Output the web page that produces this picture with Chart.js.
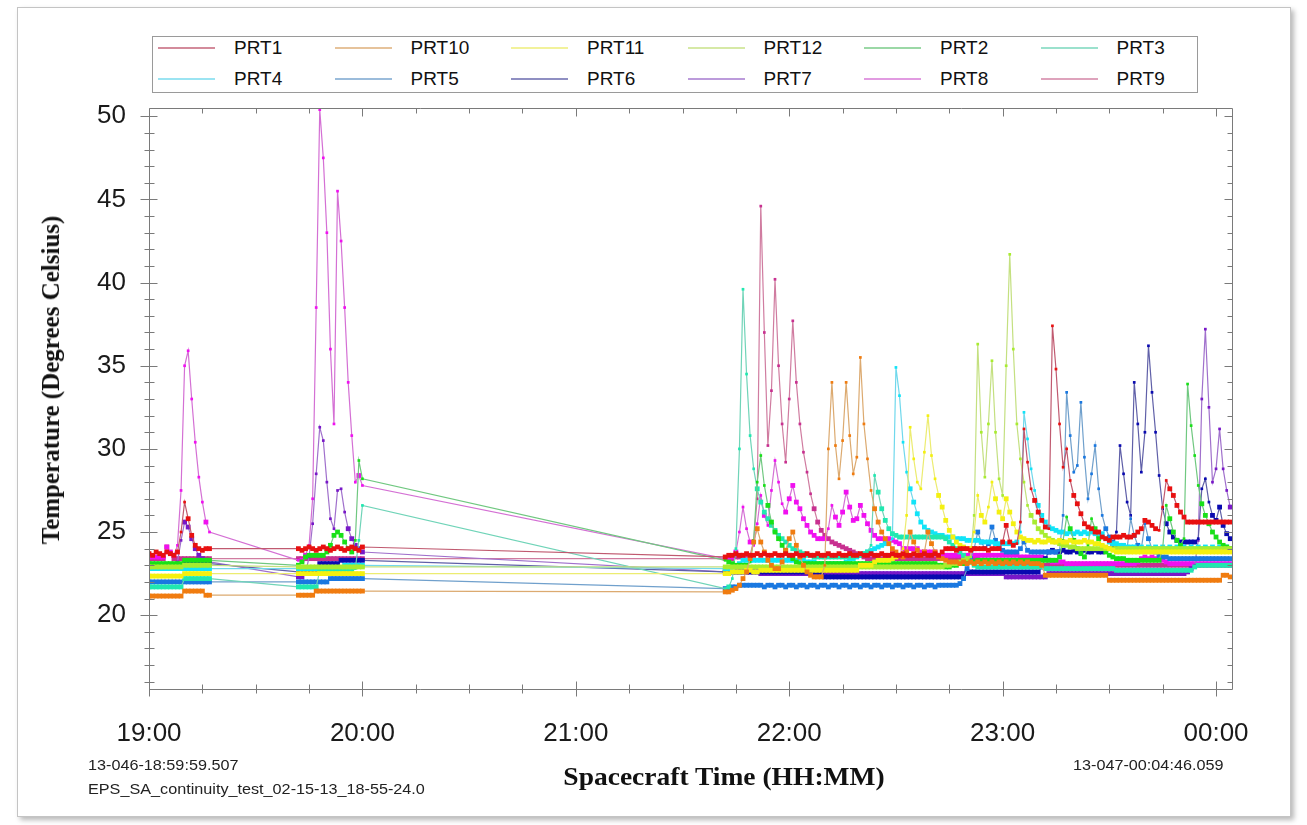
<!DOCTYPE html>
<html><head><meta charset="utf-8">
<script src="https://cdn.jsdelivr.net/npm/chart.js@4.4.1/dist/chart.umd.min.js"></script>
<style>
html,body{margin:0;padding:0;background:#fff;}
#wrap{position:relative;width:1307px;height:825px;overflow:hidden;background:#fff;font-family:"Liberation Sans",Arial,sans-serif;}
#frame{position:absolute;left:17px;top:7px;width:1272px;height:808px;border:1px solid #c4c4c4;box-shadow:3px 3px 5px rgba(0,0,0,0.28);background:#fff;}
canvas{position:absolute;left:0;top:0;}
#legend{position:absolute;left:152px;top:36px;width:1044px;height:55px;border:1px solid #9a9a9a;background:#fff;}
.li{position:absolute;height:20px;font-size:19px;color:#111;line-height:20px;white-space:nowrap;}
.li .sw{position:absolute;left:0;top:9px;width:57px;height:2px;}
.li .tx{position:absolute;left:76px;top:0;}
.ytitle{position:absolute;left:51px;top:380px;transform:translate(-50%,-50%) rotate(-90deg);font-family:"Liberation Serif","Times New Roman",serif;font-weight:bold;font-size:25px;white-space:nowrap;color:#111;}
.xtitle{position:absolute;left:724px;top:777px;transform:translate(-50%,-50%) scaleX(1.1);font-family:"Liberation Serif","Times New Roman",serif;font-weight:bold;font-size:25px;white-space:nowrap;color:#111;}
.note{position:absolute;font-size:15px;color:#222;white-space:nowrap;transform-origin:0 50%;transform:scaleX(1.08);}
</style></head>
<body>
<div id="wrap">
<div id="frame"></div>
<canvas id="c" width="1307" height="825"></canvas>
<div id="legend"></div>
<div class="ytitle">Temperature (Degrees Celsius)</div>
<div class="xtitle">Spacecraft Time (HH:MM)</div>
<div class="note" style="left:88px;top:756px">13-046-18:59:59.507</div>
<div class="note" style="left:88px;top:780px">EPS_SA_continuity_test_02-15-13_18-55-24.0</div>
<div class="note" style="left:1073px;top:756px">13-047-00:04:46.059</div>
</div>
<script>
// sample times, minutes after 19:00
const t_A = [0,1,2,3,4,5,6,7,8,9,10,11,12,13,14,15,16,17];
const t_B = [42,43,44,45,46,47,48,49,50,51,52,53,54,55,56,57,58,59,60];
const t_C = [162,163,164,165,166,167,168,169,170,171,
172,173,174,175,176,177,178,179,180,181,
182,183,184,185,186,187,188,189,190,191,
192,193,194,195,196,197,198,199,200,201,
202,203,204,205,206,207,208,209,210,211,
212,213,214,215,216,217,218,219,220,221,
222,223,224,225,226,227,228,229,230,231,
232,233,234,235,236,237,238,239,240,241,
242,243,244,245,246,247,248,249,250,251,
252,253,254,255,256,257,258,259,260,261,
262,263,264,265,266,267,268,269,270,271,
272,273,274,275,276,277,278,279,280,281,
282,283,284,285,286,287,288,289,290,291,
292,293,294,295,296,297,298,299,300,301,
302,303,304];

const hourTicks = [0,60,120,180,240,300];
const hourLabels = ['19:00','20:00','21:00','22:00','23:00','00:00'];
const tempTicks = [20,25,30,35,40,45,50];
const seriesNames = ['PRT1','PRT10','PRT11','PRT12','PRT2','PRT3','PRT4','PRT5','PRT6','PRT7','PRT8','PRT9'];

// PRT1
const prt1_A = [23.7,23.6,23.8,23.7,23.6,23.8,23.7,23.6,23.8,25.0,26.8,25.8,24.8,24.2,24.0,23.9,24.0,24.0];
const prt1_B = [24.0,23.9,24.0,24.1,24.0,23.9,24.0,24.1,24.0,23.9,24.0,24.1,24.0,23.9,24.0,24.1,24.0,23.9,24.1];
const prt1_C = [23.5,23.6,23.6,23.7,23.6,23.6,23.7,23.6,23.6,23.7,
23.6,23.7,23.6,23.6,23.7,23.6,23.6,23.7,23.6,23.6,
23.7,23.6,23.6,23.7,23.6,23.6,23.7,23.6,23.6,23.7,
23.6,23.6,23.7,23.6,23.6,23.7,23.6,23.6,23.7,23.6,
23.6,23.7,23.6,23.6,23.7,23.6,23.6,23.7,23.6,23.6,
23.7,23.6,23.6,23.7,23.6,23.6,23.7,23.6,23.6,23.7,
23.6,23.8,24.0,24.0,24.0,23.9,24.0,24.0,24.0,23.9,
24.0,24.0,24.0,24.0,23.9,24.0,24.0,24.0,24.4,25.4,
24.4,24.2,24.3,25.6,31.2,29.2,27.6,26.9,26.2,25.7,
25.3,25.2,37.4,34.8,31.5,28.9,30.0,28.1,27.2,26.7,
26.1,25.5,25.3,25.2,25.0,25.0,24.7,24.6,24.5,24.7,
24.7,24.7,24.8,24.7,24.7,24.8,25.0,25.2,25.7,25.6,
25.4,25.2,25.1,26.5,28.1,27.6,27.2,26.6,26.2,25.9,
25.6,25.6,25.6,25.6,25.6,25.6,25.6,25.6,25.6,25.6,
25.6,25.6,25.6];

// PRT10
const prt10_A = [21.15,21.15,21.15,21.15,21.15,21.15,21.15,21.15,21.15,21.15,21.45,21.45,21.45,21.45,21.45,21.45,21.2,21.2];
const prt10_B = [21.2,21.2,21.2,21.2,21.2,21.45,21.45,21.45,21.45,21.45,21.45,21.45,21.45,21.45,21.45,21.45,21.45,21.45,21.45];
const prt10_C = [21.4,21.4,21.5,21.6,21.8,22.2,22.6,23.4,24.4,25.2,
24.4,23.8,23.3,23.0,22.8,22.8,23.2,23.9,24.6,25.0,
24.2,23.5,23.0,22.6,22.4,22.3,22.3,22.3,23.0,30.0,
34.0,30.2,28.2,30.5,34.0,30.8,28.5,29.5,35.5,31.5,
29.4,27.5,26.4,25.6,25.0,24.6,24.3,24.0,23.8,23.6,
23.5,23.8,25.0,24.4,23.9,23.6,23.8,25.0,24.3,23.8,
23.5,23.4,23.3,23.2,23.2,23.2,23.1,23.2,23.1,23.2,
23.1,23.2,23.1,23.2,23.1,23.2,23.1,23.2,23.1,23.2,
23.1,23.2,23.1,23.2,23.1,23.2,23.1,23.1,23.1,23.0,
22.4,22.4,22.4,22.4,22.4,22.4,22.4,22.4,22.4,22.4,
22.4,22.4,22.4,22.4,22.4,22.4,22.4,22.4,22.1,22.1,
22.1,22.1,22.1,22.1,22.1,22.1,22.1,22.1,22.1,22.1,
22.1,22.1,22.1,22.1,22.1,22.1,22.1,22.1,22.1,22.1,
22.1,22.1,22.1,22.1,22.1,22.1,22.1,22.1,22.1,22.1,
22.4,22.4,22.3];

// PRT11
const prt11_A = [22.35,22.35,22.35,22.35,22.35,22.35,22.35,22.35,22.35,22.35,22.5,22.5,22.5,22.5,22.5,22.5,22.5,22.5];
const prt11_B = [22.5,22.5,22.5,22.5,22.5,22.5,22.5,22.5,22.5,22.5,22.5,22.5,22.5,22.5,22.5,22.5,22.5,22.5,22.5];
const prt11_C = [22.5,22.5,22.6,22.6,22.6,22.6,22.7,22.7,22.6,22.6,
22.7,22.7,22.7,22.7,22.7,22.7,22.7,22.7,22.7,22.7,
22.7,22.7,22.7,22.7,22.7,22.7,22.7,22.7,22.7,22.7,
22.7,22.7,22.7,22.7,22.7,22.7,22.7,22.7,23.0,23.0,
23.0,23.0,23.2,23.3,23.3,23.3,23.3,23.4,23.5,23.6,
24.0,26.0,31.3,29.4,28.0,27.6,29.8,32.0,29.6,28.2,
27.2,26.5,25.7,25.1,24.7,24.4,24.2,24.1,24.0,24.0,
25.0,27.2,26.0,25.6,26.5,28.0,27.0,26.2,25.8,27.0,
26.2,25.5,25.0,24.7,24.6,24.5,24.5,24.4,24.5,24.4,
24.4,24.5,24.4,24.4,24.5,24.4,24.4,24.5,24.4,24.4,
24.4,24.5,24.4,24.4,24.3,24.3,24.2,24.1,24.0,23.9,
23.8,23.8,23.8,23.8,23.8,23.8,23.8,23.8,23.8,23.8,
23.8,23.8,23.8,23.8,23.8,23.8,23.8,23.8,23.8,23.8,
23.8,23.8,23.8,23.8,23.8,23.8,23.8,23.8,23.8,23.8,
23.8,23.8,23.8];

// PRT12
const prt12_A = [22.9,22.9,22.9,22.9,22.9,22.9,22.9,22.9,22.9,22.9,23.0,23.0,23.0,23.0,23.0,23.0,23.0,23.0];
const prt12_B = [22.9,22.9,22.9,22.9,22.9,22.9,22.9,22.9,22.9,22.9,22.9,22.9,22.9,22.9,22.9,22.9,22.9,22.9,22.9];
const prt12_C = [22.9,22.9,22.9,22.9,22.9,22.9,22.9,22.9,22.9,22.9,
22.9,22.9,22.9,22.9,22.9,22.9,22.9,22.9,22.9,22.9,
22.9,22.9,22.9,22.9,22.9,22.9,22.9,22.9,22.9,22.9,
22.9,22.9,22.9,22.9,22.9,22.9,22.9,22.9,22.9,22.9,
22.9,22.9,22.9,22.9,22.9,22.9,22.9,22.9,22.9,22.9,
22.9,22.9,22.9,22.9,22.9,22.9,22.9,22.9,22.9,22.9,
22.9,22.9,23.0,23.0,23.1,23.1,23.2,23.3,23.4,23.5,
26.0,36.3,31.0,28.3,31.5,35.3,31.0,28.2,27.2,35.0,
41.7,36.0,31.5,29.4,28.0,26.6,26.0,25.6,25.2,25.0,
24.8,24.6,24.5,24.4,24.3,24.2,24.2,24.1,24.1,24.0,
24.0,24.0,24.0,24.0,24.0,24.0,24.0,24.0,24.0,24.0,
24.0,24.0,24.0,24.0,24.0,24.0,24.0,24.0,24.0,24.0,
24.0,24.0,24.0,24.0,24.0,24.0,24.0,24.0,24.0,24.0,
24.0,24.0,24.0,24.0,24.0,24.0,24.0,24.0,24.0,24.0,
24.0,24.0,24.0];

// PRT2
const prt2_A = [23.1,23.1,23.1,23.1,23.1,23.1,23.1,23.1,23.1,23.1,23.3,23.3,23.3,23.3,23.3,23.3,23.3,23.3];
const prt2_B = [23.0,23.2,23.5,23.6,23.6,23.6,23.6,23.6,23.8,24.2,24.8,25.0,24.8,24.4,24.0,23.8,24.5,29.3,28.2];
const prt2_C = [23.3,23.2,23.1,23.0,23.0,23.0,23.0,23.2,24.5,28.0,
29.6,27.8,26.6,25.6,25.0,24.6,24.2,23.9,23.6,23.4,
23.2,23.1,23.1,23.1,23.1,23.1,23.1,23.1,23.1,23.1,
23.1,23.1,23.1,23.1,23.1,23.1,23.1,23.1,23.1,23.1,
23.1,23.1,23.1,23.1,23.1,23.1,23.1,23.1,23.1,23.1,
23.1,23.1,23.1,23.1,23.1,23.1,23.1,23.1,23.1,23.1,
23.0,23.0,22.9,22.9,23.0,23.0,23.1,23.1,23.2,23.2,
23.2,23.3,23.3,23.3,23.3,23.3,23.3,23.3,23.3,23.3,
23.3,23.3,23.3,23.3,23.3,23.3,23.3,23.3,23.3,23.3,
23.3,23.3,23.3,23.3,23.5,24.5,25.9,25.2,24.5,24.0,
23.7,23.5,24.2,25.8,25.2,24.6,24.1,23.8,23.6,23.5,
23.4,23.4,23.4,23.3,23.3,23.3,23.3,23.3,23.3,23.3,
23.3,23.3,23.3,24.0,26.6,25.8,25.0,24.5,24.2,24.6,
33.9,31.4,29.6,27.8,26.7,26.0,25.5,25.0,24.7,24.4,
24.2,24.1,24.0];

// PRT3
const prt3_A = [21.7,21.7,21.7,21.7,21.7,21.7,21.7,21.7,21.7,21.7,22.2,22.2,22.2,22.2,22.2,22.2,22.2,22.2];
const prt3_B = [21.7,21.7,21.7,21.7,21.7,21.7,22.7,22.7,22.7,22.7,22.7,22.7,22.7,22.7,22.7,22.7,22.8,24.5,26.6];
const prt3_C = [21.6,21.7,22.2,24.0,30.0,39.6,34.5,30.8,28.8,27.6,
26.8,26.2,25.8,25.4,25.1,24.8,24.6,24.4,24.2,24.0,
23.9,23.8,23.7,23.6,23.6,23.5,23.5,23.5,23.5,23.5,
23.5,23.5,23.5,23.5,23.5,23.5,23.5,23.6,23.6,23.7,
23.8,24.2,28.4,27.4,26.4,25.7,25.2,24.9,24.8,24.7,
24.7,24.7,24.7,24.7,24.7,24.7,24.7,24.7,24.7,24.7,
24.7,24.7,24.6,24.4,24.2,24.0,23.8,23.6,23.4,23.2,
23.0,22.9,22.9,22.9,22.9,22.9,22.9,22.9,22.9,22.9,
22.9,22.9,22.9,22.9,22.9,22.9,22.9,22.9,22.9,22.9,
22.8,22.8,22.8,22.8,22.8,22.8,22.8,22.8,22.8,22.8,
22.8,22.8,22.8,22.8,22.8,22.8,22.8,22.8,22.8,22.8,
22.7,22.7,22.7,22.7,22.7,22.7,22.7,22.7,22.7,22.7,
22.7,22.7,22.7,22.7,22.7,22.7,22.7,22.7,22.7,22.7,
22.7,22.7,22.9,23.0,23.0,23.0,23.0,23.0,23.0,23.0,
23.0,23.0,23.0];

// PRT4
const prt4_A = [22.8,22.8,22.8,22.8,22.8,22.8,22.8,22.8,22.8,22.8,22.8,22.8,22.8,22.8,22.8,22.8,22.8,22.8];
const prt4_B = [22.8,22.8,22.8,22.8,22.8,22.8,22.8,22.8,22.8,22.8,22.8,22.8,22.8,23.0,23.0,23.0,23.0,23.0,23.0];
const prt4_C = [22.8,22.8,22.8,22.9,23.1,23.3,23.3,23.3,23.3,23.3,
23.3,23.3,23.3,23.3,23.3,23.3,23.3,23.3,23.3,23.3,
23.3,23.3,23.3,23.2,23.2,23.2,23.1,23.1,23.1,23.1,
23.1,23.1,23.1,23.1,23.2,23.3,23.4,23.5,23.6,23.7,
23.8,23.9,24.0,24.1,24.2,24.3,24.3,24.6,34.9,33.2,
30.4,28.6,27.6,26.8,26.1,25.6,25.3,25.1,25.0,24.9,
24.8,24.8,24.7,24.7,24.7,24.6,24.6,24.6,24.5,24.5,
24.5,24.5,24.4,24.4,24.4,24.4,24.3,24.3,24.3,24.3,
24.3,24.3,24.4,25.0,32.2,30.6,28.8,27.5,26.6,26.0,
25.6,25.3,25.2,25.1,25.0,25.0,24.9,25.0,24.9,25.0,
24.9,25.0,24.9,25.0,24.9,24.8,24.9,24.6,24.4,24.3,
24.3,24.2,24.2,24.1,24.1,24.1,24.0,24.1,24.0,24.1,
24.0,24.1,24.0,24.1,24.0,24.1,24.0,24.1,24.0,24.1,
24.0,24.1,24.0,24.1,24.0,24.1,24.0,24.1,24.0,24.1,
24.0,24.1,24.0];

// PRT5
const prt5_A = [22.0,22.0,22.0,22.0,22.0,22.0,22.0,22.0,22.0,22.0,22.0,22.0,22.0,22.0,22.0,22.0,22.0,22.0];
const prt5_B = [22.0,22.0,22.0,22.0,22.0,22.0,22.0,22.0,22.0,22.2,22.2,22.2,22.2,22.2,22.2,22.2,22.2,22.2,22.2];
const prt5_C = [21.6,21.6,21.7,21.7,21.8,21.8,21.8,21.8,21.8,21.8,
21.8,21.7,21.8,21.8,21.7,21.8,21.8,21.7,21.8,21.8,
21.7,21.8,21.8,21.7,21.8,21.8,21.7,21.8,21.8,21.7,
21.8,21.8,21.7,21.8,21.8,21.7,21.8,21.8,21.7,21.8,
21.8,21.7,21.8,21.8,21.7,21.8,21.8,21.7,21.8,21.8,
21.7,21.8,21.8,21.7,21.8,21.8,21.7,21.8,21.8,21.7,
21.8,21.8,21.8,21.8,21.8,21.8,21.9,22.2,22.8,23.4,
24.0,25.0,24.4,24.0,24.3,25.3,24.5,24.1,23.9,23.8,
23.8,23.8,23.8,24.0,24.4,23.9,23.8,23.8,23.8,23.8,
23.8,23.8,23.8,23.8,23.9,26.0,33.4,30.8,28.6,29.0,
32.8,29.5,27.0,28.5,30.2,27.6,26.0,25.2,24.7,24.4,
24.2,24.1,24.0,24.0,25.8,24.8,24.2,24.0,25.5,24.6,
24.0,23.8,23.6,23.5,23.5,23.4,23.4,23.4,23.4,23.4,
23.4,23.4,23.4,23.4,23.4,23.4,23.4,23.4,23.4,23.4,
23.4,23.4,23.4];

// PRT6
const prt6_A = [22.9,22.9,22.9,22.9,22.9,22.9,22.9,22.9,22.9,22.9,23.1,23.1,23.1,23.1,23.1,23.1,23.1,23.1];
const prt6_B = [22.6,22.6,22.6,22.6,22.6,22.6,23.1,23.1,23.1,23.1,23.1,23.1,23.3,23.3,23.3,23.3,23.3,23.3,23.3];
const prt6_C = [22.6,22.6,22.6,22.6,22.6,22.6,22.6,22.6,22.6,22.6,
22.6,22.6,22.6,22.6,22.6,22.6,22.6,22.6,22.6,22.6,
22.6,22.6,22.6,22.6,22.6,22.6,22.6,22.6,22.3,22.3,
22.3,22.3,22.3,22.3,22.3,22.3,22.3,22.3,22.3,22.3,
22.3,22.3,22.3,22.3,22.3,22.3,22.3,22.3,22.3,22.3,
22.3,22.3,22.3,22.3,22.3,22.3,22.3,22.3,22.3,22.3,
22.3,22.3,22.3,22.3,22.3,22.3,22.3,22.3,22.6,22.6,
22.6,22.6,22.6,22.6,22.6,22.6,22.6,22.6,22.6,22.6,
22.6,22.6,22.6,22.6,22.6,22.6,22.6,22.6,22.6,22.9,
23.4,23.8,23.9,23.8,23.8,23.9,23.8,23.8,23.9,23.8,
23.8,23.9,23.8,23.8,23.9,23.8,23.8,23.9,24.0,24.2,
25.0,30.2,28.5,26.8,26.0,34.0,31.5,28.6,31.0,36.2,
33.4,31.0,28.4,26.4,25.5,25.0,24.7,24.5,24.4,24.4,
24.4,24.4,24.4,24.6,27.6,28.2,26.8,26.0,25.7,26.5,
25.4,24.9,24.6];

// PRT7
const prt7_A = [23.0,23.0,23.0,23.0,23.0,23.0,23.0,23.0,23.2,24.5,25.6,25.3,24.6,24.0,23.6,23.4,23.3,23.2];
const prt7_B = [22.3,22.3,22.5,23.5,25.5,28.5,31.3,30.5,28.0,25.8,25.2,27.5,27.6,26.2,25.2,24.6,24.2,24.0,23.8];
const prt7_C = [22.6,22.6,22.6,22.6,22.6,22.6,22.6,22.6,22.6,22.6,
22.5,22.5,22.5,22.5,22.5,22.5,22.5,22.5,22.5,22.5,
22.5,22.5,22.5,22.5,22.5,22.5,22.5,22.5,22.5,22.5,
22.5,22.5,22.5,22.5,22.5,22.5,22.5,22.5,22.5,22.5,
22.5,22.5,22.5,22.5,22.5,22.5,22.5,22.5,22.5,22.5,
22.5,22.5,22.5,22.5,22.5,22.5,22.5,22.5,22.5,22.5,
22.5,22.5,22.5,22.5,22.5,22.5,22.5,22.5,22.5,22.5,
22.5,22.5,22.5,22.5,22.5,22.5,22.5,22.5,22.5,22.3,
22.3,22.3,22.3,22.3,22.3,22.3,22.3,22.3,22.3,22.3,
22.3,22.5,22.5,22.5,22.5,22.5,22.5,22.5,22.5,22.5,
22.5,22.5,22.5,22.5,22.5,22.5,22.5,22.5,22.5,22.5,
22.5,22.5,22.5,22.5,22.5,22.5,22.5,22.5,22.5,22.5,
22.5,22.5,22.5,22.5,22.5,22.5,22.5,22.5,22.5,22.5,
22.6,22.8,23.0,24.5,33.0,37.2,32.5,28.0,28.8,31.2,
28.8,27.5,26.5];

// PRT8
const prt8_A = [23.5,23.5,23.5,23.5,23.5,24.1,23.8,23.6,24.2,27.5,35.0,35.9,33.0,30.4,28.3,26.8,25.6,25.0];
const prt8_B = [23.3,23.3,23.6,24.2,27.0,38.5,50.4,47.5,43.0,36.0,31.5,45.5,42.5,38.5,34.0,30.8,28.0,28.4,27.8];
const prt8_C = [23.4,23.4,23.5,23.8,25.0,26.5,25.2,24.4,24.2,25.5,
27.2,26.0,25.4,27.5,29.3,28.0,26.7,26.2,27.0,27.8,
26.8,26.4,25.8,25.4,25.0,24.8,24.6,24.6,24.6,25.2,
26.6,25.9,25.4,26.2,27.4,26.5,25.7,25.8,26.6,26.0,
25.5,25.1,24.8,24.6,24.6,24.5,24.6,24.5,24.4,24.3,
24.0,24.0,24.0,24.0,24.0,23.8,23.8,23.8,23.8,23.8,
23.6,23.6,23.6,23.6,23.6,23.6,23.6,23.6,23.6,23.6,
23.6,23.6,23.6,23.6,23.6,23.6,23.6,23.6,23.6,23.6,
23.6,23.6,23.6,23.5,23.5,23.5,23.5,23.5,23.5,23.5,
23.4,23.3,23.2,23.2,23.2,23.2,23.1,23.1,23.1,23.1,
23.1,23.1,23.1,23.1,23.1,23.1,23.1,23.1,23.1,23.1,
23.1,23.1,23.1,23.1,23.1,23.1,23.2,23.4,23.5,23.4,
23.5,23.4,23.5,23.3,23.2,23.1,23.1,23.1,23.1,23.1,
23.1,23.1,23.1,23.1,23.1,23.1,23.1,23.1,23.1,23.1,
23.1,23.1,23.1];

// PRT9
const prt9_A = [23.4,23.4,23.4,23.4,23.4,24.1,23.7,23.4,23.4,23.4,23.4,23.4,23.4,23.4,23.4,23.4,23.4,23.4];
const prt9_B = [23.4,23.4,23.4,23.4,23.4,23.4,23.4,23.4,23.4,23.4,23.4,23.4,23.4,23.4,23.4,23.4,23.4,23.4,23.4];
const prt9_C = [23.4,23.4,23.4,23.5,23.5,23.6,23.6,23.6,24.5,27.0,
44.6,37.0,30.2,33.5,40.2,35.0,31.5,29.2,33.0,37.7,
34.0,31.5,29.8,28.6,27.3,26.4,25.6,25.1,24.8,24.6,
24.4,24.3,24.2,24.1,24.0,23.9,23.8,23.7,23.6,23.5,
23.4,23.4,23.4,23.4,23.4,23.4,23.4,23.4,23.4,23.4,
23.4,23.4,23.4,23.4,23.4,23.4,23.4,23.4,23.4,23.4,
23.4,23.4,23.4,23.4,23.4,23.4,23.4,23.4,23.4,23.4,
23.4,23.4,23.3,23.3,23.2,23.2,23.1,23.1,23.0,23.0,
23.0,23.0,23.0,23.0,23.0,23.0,23.0,23.0,23.0,23.0,
23.0,23.0,23.0,23.0,23.0,23.0,23.0,23.0,23.0,23.0,
23.0,23.0,23.0,23.0,23.0,23.0,23.0,23.0,23.0,23.0,
23.0,23.0,23.0,23.0,23.0,23.0,23.0,23.0,23.0,23.0,
23.0,23.0,23.0,23.0,23.0,23.0,23.0,23.0,23.0,23.0,
23.0,23.0,23.0,23.0,23.0,23.0,23.0,23.0,23.0,23.0,
23.0,23.0,23.0];

const lineColors  = ['#c05a70','#dcaa70','#ecec70','#c4e080','#70c880','#70d4b8','#70d8ec','#70a0cc','#6060a8','#a070cc','#d470d4','#d07ca0'];
const pointColors = ['#e81010','#f07c10','#f4f010','#a8ec30','#18e018','#20e8b0','#10e4f8','#1a78e0','#0a0ab0','#7818c8','#f010f0','#c83090'];

const seriesData = [
  [prt1_A,prt1_B,prt1_C],[prt10_A,prt10_B,prt10_C],[prt11_A,prt11_B,prt11_C],[prt12_A,prt12_B,prt12_C],
  [prt2_A,prt2_B,prt2_C],[prt3_A,prt3_B,prt3_C],[prt4_A,prt4_B,prt4_C],[prt5_A,prt5_B,prt5_C],
  [prt6_A,prt6_B,prt6_C],[prt7_A,prt7_B,prt7_C],[prt8_A,prt8_B,prt8_C],[prt9_A,prt9_B,prt9_C]
];

function zip(times, vals){ return times.map((t,i)=>({x:t,y:vals[i]})); }

// marker size: full squares on slowly changing stretches, small dots on steep spikes
function markerRadius(c){
  const d = c.dataset.data, i = c.dataIndex;
  if (!d || !d[i]) return 3.4;
  const v = d[i].y;
  const p = d[i-1] ? d[i-1].y : v;
  const n = d[i+1] ? d[i+1].y : v;
  return (Math.abs(v-p) > 1.2 || Math.abs(v-n) > 1.2) ? 1.9 : 3.4;
}

const datasets = seriesNames.map((name,k)=>{
  const [a,b,c] = seriesData[k];
  return {
    label:name,
    data: zip(t_A,a).concat(zip(t_B,b), zip(t_C,c)),
    borderColor: lineColors[k],
    backgroundColor: pointColors[k],
    pointBackgroundColor: pointColors[k],
    pointBorderColor: pointColors[k],
    borderWidth: 1.2,
    pointRadius: markerRadius,
    pointHoverRadius: markerRadius,
    pointBorderWidth: 0,
    pointStyle: 'rect',
    tension: 0,
    fill: false
  };
});

const framePlugin = {
  id:'frame',
  afterDraw(chart){
    const {ctx, chartArea:a, scales:{x,y}} = chart;
    ctx.save();
    ctx.strokeStyle = '#7a7a7a';
    ctx.lineWidth = 1;
    const L = Math.round(a.left)+0.5, R = Math.round(a.right)-0.5, T = Math.round(a.top)+0.5, B = Math.round(a.bottom)-0.5;
    ctx.beginPath();
    ctx.rect(L, T, R-L, B-T);
    for (let m = 0; m <= 300; m += 15) {
      const px = Math.round(x.getPixelForValue(m)) + 0.5;
      const major = (m % 60 === 0);
      ctx.moveTo(px, B - (major ? 8 : 5)); ctx.lineTo(px, B + (major ? 7 : 4));
      ctx.moveTo(px, T); ctx.lineTo(px, T + (major ? 8 : 5));
    }
    for (let v = 16; v <= 50; v++) {
      const py = Math.round(y.getPixelForValue(v)) + 0.5;
      const major = (v % 5 === 0);
      ctx.moveTo(L - (major ? 9 : 5), py); ctx.lineTo(L + (major ? 8 : 5), py);
      ctx.moveTo(R - (major ? 8 : 5), py); ctx.lineTo(R, py);
    }
    ctx.stroke();
    ctx.restore();
  }
};

const chart = new Chart(document.getElementById('c').getContext('2d'), {
  type:'line',
  data:{datasets},
  options:{
    responsive:false,
    animation:false,
    devicePixelRatio:1,
    events:[],
    layout:{padding:{left:0, top:108, right:74, bottom:0}},
    plugins:{legend:{display:false}, tooltip:{enabled:false}, title:{display:false}},
    scales:{
      x:{
        type:'linear', min:-0.008, max:304.77,
        grid:{display:false, drawTicks:false}, border:{display:false},
        afterBuildTicks:(s)=>{ s.ticks = hourTicks.map(v=>({value:v})); },
        afterFit:(s)=>{ s.height = 135; s.paddingLeft = 0; s.paddingRight = 0; },
        ticks:{ autoSkip:false, maxRotation:0, padding:28, color:'#1a1a1a',
          font:{family:'"Liberation Sans", Arial, sans-serif', size:26},
          callback:(v,i)=>hourLabels[i] }
      },
      y:{
        type:'linear', min:15.5, max:50.5,
        grid:{display:false, drawTicks:false}, border:{display:false},
        afterBuildTicks:(s)=>{ s.ticks = tempTicks.map(v=>({value:v})); },
        afterFit:(s)=>{ s.width = 149; s.paddingTop = 0; s.paddingBottom = 0; },
        ticks:{ padding:23, color:'#1a1a1a',
          font:{family:'"Liberation Sans", Arial, sans-serif', size:26},
          callback:(v,i)=>String(tempTicks[i]) }
      }
    }
  },
  plugins:[framePlugin]
});

// HTML legend built from the chart's datasets
const leg = document.getElementById('legend');
chart.data.datasets.forEach((ds,k)=>{
  const col = k % 6, row = Math.floor(k / 6);
  const d = document.createElement('div');
  d.className = 'li';
  d.style.left = (5 + col*176.5) + 'px';
  d.style.top = (1 + row*31) + 'px';
  d.innerHTML = '<span class="sw" style="background:'+ds.borderColor+';opacity:0.7"></span><span class="tx">'+ds.label+'</span>';
  leg.appendChild(d);
});
</script>
</body></html>
